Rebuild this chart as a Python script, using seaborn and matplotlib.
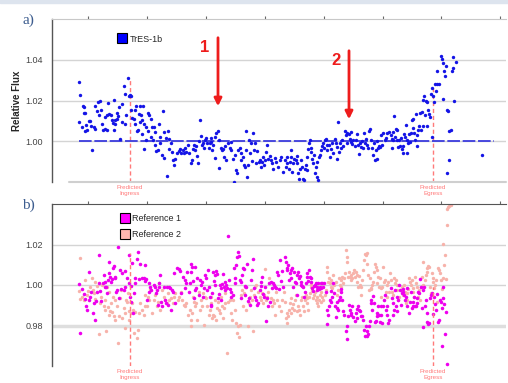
import matplotlib
matplotlib.use('Agg')
import matplotlib.pyplot as plt
from matplotlib.lines import Line2D
from matplotlib.patches import Rectangle
import matplotlib.transforms as mtransforms
import numpy as np
import pandas as pd
import seaborn as sns

# ---- TrES-1b light curve (time in arbitrary units, relative flux) ----
tres_time_pre = [26.7, 27.7, 30.7, 32.0, 32.3, 33.3, 27.3, 30.0, 32.7, 35.0,
                 34.3, 36.7, 38.3, 39.3, 40.0, 41.7, 42.7, 43.3, 45.0, 46.0,
                 47.7, 46.7, 49.3, 50.0, 51.0, 53.3, 55.3, 53.0, 55.0, 56.0,
                 57.3, 59.3, 61.7, 60.0, 61.2, 62.7, 63.3, 65.0, 66.0, 62.3,
                 64.5, 66.7, 68.3, 70.0, 70.4, 71.7, 72.7, 73.3, 74.3, 76.0,
                 76.7, 77.7, 79.3, 79.0, 80.0, 81.7, 82.7, 84.3, 86.7, 88.3,
                 90.7, 83.3, 85.7, 87.7, 89.0, 90.4, 92.3, 94.0, 95.7, 97.3,
                 99.0, 85.0, 90.0, 92.3, 94.0, 96.0, 100.0, 101.7, 103.3, 99.3,
                 100.7, 107.3, 108.3, 110.7, 112.0, 114.0, 116.0, 117.3, 102.7, 104.0,
                 105.7, 107.7, 110.0, 111.7, 115.0, 117.3, 119.0, 120.0, 121.0, 121.7,
                 123.3, 125.0, 126.7, 128.3, 129.0]
tres_flux_pre = [1.0293, 1.0225, 1.0171, 1.0168, 1.0139, 1.0139, 1.0093, 1.0070, 1.0049, 1.0054,
                 1.0082, 1.0098, 1.0101, 1.0077, 0.9956, 1.0070, 1.0062, 1.0171, 1.0148, 1.0192,
                 1.0197, 1.0127, 1.0155, 1.0083, 1.0057, 1.0059, 1.0057, 1.0119, 1.0127, 1.0187,
                 1.0132, 1.0127, 1.0204, 1.0103, 1.0091, 1.0083, 1.0106, 1.0111, 1.0122, 1.0057,
                 1.0139, 1.0168, 1.0013, 1.0181, 1.0095, 1.0269, 1.0086, 1.0230, 1.0127, 1.0311,
                 1.0220, 1.0228, 1.0220, 1.0152, 1.0116, 1.0111, 1.0155, 1.0171, 1.0135, 1.0171,
                 1.0174, 1.0083, 1.0057, 1.0095, 1.0130, 1.0103, 1.0083, 1.0070, 1.0140, 1.0127,
                 1.0111, 1.0051, 1.0037, 0.9964, 1.0005, 1.0051, 1.0070, 1.0070, 1.0046, 1.0021,
                 1.0008, 1.0086, 1.0021, 1.0147, 1.0046, 1.0018, 1.0051, 1.0013, 0.9980, 0.9953,
                 0.9959, 0.9989, 0.9932, 0.9920, 0.9830, 0.9964, 0.9989, 0.9948, 0.9907, 0.9881,
                 0.9915, 0.9943, 0.9953, 0.9964, 0.9940]

tres_time_mid1 = [131.0, 132.0, 133.3, 134.3, 136.0, 136.7, 138.7, 140.0, 141.0, 142.0,
                  143.3, 144.3, 145.3, 146.0, 146.7, 148.0, 149.3, 150.0, 151.0, 152.0,
                  152.7, 154.3, 155.3, 156.7, 157.7, 158.7, 159.3, 160.0, 161.0, 162.7,
                  163.3, 164.3, 166.0, 166.7, 167.0, 168.7, 170.0, 171.0, 172.0, 173.3,
                  174.3, 176.0, 177.7, 178.7, 179.3, 181.0, 182.0, 183.3, 184.3, 185.3,
                  186.0, 187.7, 188.7, 189.3, 191.0, 192.0, 192.7, 193.7, 194.3, 195.3,
                  196.0, 196.7, 197.7, 198.7, 200.0, 201.0, 202.0, 203.3, 204.3, 205.3,
                  206.7, 207.7, 208.7, 210.0, 211.0, 212.0, 213.3, 214.3, 215.3, 216.0,
                  217.7, 218.7, 220.0, 221.0, 222.7, 224.3, 226.0, 227.7, 229.3, 231.0]
tres_flux_mid1 = [0.9956, 0.9940, 0.9969, 0.9948, 0.9980, 0.9943, 0.9891, 0.9907, 0.9964, 0.9980,
                  0.9956, 0.9976, 0.9927, 0.9891, 1.0002, 1.0103, 1.0024, 0.9980, 0.9992, 0.9969,
                  1.0005, 1.0018, 0.9989, 0.9969, 0.9989, 1.0018, 0.9997, 0.9956, 0.9980, 1.0021,
                  0.9920, 1.0041, 1.0051, 1.0005, 0.9871, 0.9969, 0.9956, 0.9964, 0.9923, 0.9976,
                  0.9907, 0.9992, 0.9969, 0.9997, 0.9956, 0.9915, 0.9801, 0.9932, 0.9858, 0.9842,
                  0.9956, 0.9969, 0.9940, 0.9907, 0.9923, 0.9883, 0.9875, 1.0049, 0.9956, 0.9826,
                  0.9883, 1.0005, 0.9943, 0.9992, 0.9904, 1.0041, 0.9956, 0.9992, 0.9891, 0.9953,
                  0.9899, 0.9907, 0.9875, 0.9899, 0.9923, 0.9883, 0.9907, 0.9948, 0.9980, 0.9915,
                  0.9927, 0.9907, 0.9891, 0.9866, 0.9920, 0.9899, 0.9875, 0.9907, 0.9923, 0.9850]

tres_time_mid2 = [232.7, 233.7, 234.7, 235.3, 237.0, 238.0, 238.7, 239.3, 240.3, 241.3,
                  242.0, 243.7, 244.7, 245.3, 246.0, 247.0, 248.0, 249.3, 250.3, 251.3,
                  252.0, 252.7, 253.7, 254.7, 255.3, 256.0, 257.0, 258.0, 258.7, 259.3,
                  260.3, 261.3, 262.0, 262.7, 263.7, 264.7, 265.3, 266.0, 267.0, 268.0,
                  269.3, 270.3, 271.3, 272.0, 273.0, 273.7, 274.7, 275.3, 277.0, 278.0,
                  278.7, 280.3, 281.3, 282.7, 283.7, 284.7, 285.3, 286.3, 287.0, 288.0,
                  289.3, 290.3, 291.3, 292.7, 293.7, 294.7, 295.3, 297.0, 298.0, 298.7,
                  299.3, 300.3, 301.3, 302.7, 303.7, 304.7, 306.0, 307.0, 308.0, 308.7,
                  310.3, 311.3, 312.0, 312.7, 313.7, 314.7, 316.0, 317.0, 318.0, 319.3,
                  320.3, 321.3, 322.0, 322.7, 323.7, 324.7, 325.3, 326.0, 327.0, 328.0,
                  329.3, 330.3, 331.3, 332.7, 333.7, 335.3, 337.0]
tres_flux_mid2 = [0.9907, 0.9875, 0.9923, 0.9891, 0.9866, 0.9899, 0.9956, 0.9923, 0.9850, 0.9891,
                  0.9915, 0.9907, 0.9927, 0.9891, 0.9842, 0.9817, 0.9866, 0.9907, 0.9875, 0.9817,
                  0.9809, 0.9866, 0.9883, 0.9858, 0.9923, 0.9964, 0.9989, 1.0005, 0.9948, 0.9969,
                  0.9915, 0.9891, 0.9932, 0.9842, 0.9875, 0.9899, 0.9825, 0.9809, 0.9923, 0.9932,
                  0.9956, 0.9976, 0.9992, 0.9969, 1.0005, 1.0013, 0.9980, 0.9956, 0.9980, 0.9923,
                  0.9964, 0.9989, 0.9943, 1.0013, 0.9989, 0.9972, 0.9911, 1.0094, 0.9948, 0.9992,
                  0.9969, 1.0005, 0.9976, 1.0051, 1.0029, 0.9992, 1.0041, 1.0037, 1.0013, 0.9997,
                  1.0046, 0.9985, 1.0008, 0.9976, 1.0005, 1.0037, 0.9980, 0.9936, 0.9992, 0.9972,
                  1.0002, 0.9969, 1.0041, 0.9989, 1.0013, 0.9980, 0.9969, 1.0051, 1.0062, 1.0005,
                  0.9969, 0.9932, 0.9989, 0.9907, 0.9956, 1.0002, 0.9915, 0.9969, 0.9976, 0.9972,
                  1.0029, 0.9980, 1.0041, 1.0005, 1.0018, 1.0041, 1.0046]

tres_time_post = [338.7, 339.7, 339.9, 340.7, 341.3, 342.0, 343.0, 344.0, 344.7, 345.3,
                  346.3, 347.3, 348.0, 348.7, 349.7, 350.7, 351.3, 352.0, 353.0, 354.0,
                  354.7, 355.3, 356.3, 357.3, 358.0, 358.7, 359.7, 360.7, 361.3, 362.0,
                  363.0, 364.0, 364.7, 365.3, 366.3, 367.3, 368.0, 368.7, 369.7, 370.7,
                  371.3, 372.0, 373.0, 374.0, 374.7, 375.3, 376.3, 377.3, 378.0, 378.7,
                  379.7, 380.3, 380.7, 382.0, 383.0, 384.0, 384.7, 385.3, 387.3, 388.7,
                  389.7, 390.7, 391.3, 392.3, 393.0, 394.0, 395.3, 396.3, 396.6, 397.3,
                  395.0, 398.7, 399.7, 400.7, 401.3, 401.6, 404.0, 429.7]
tres_flux_post = [1.0029, 1.0013, 0.9969, 1.0046, 1.0005, 1.0122, 1.0021, 1.0062, 1.0054, 1.0005,
                  0.9972, 1.0008, 0.9976, 1.0018, 0.9964, 0.9976, 0.9943, 1.0034, 1.0021, 1.0078,
                  0.9940, 1.0005, 0.9989, 1.0037, 0.9997, 1.0041, 1.0103, 1.0111, 1.0067, 1.0041,
                  1.0005, 1.0135, 0.9976, 1.0029, 1.0057, 1.0073, 1.0139, 1.0057, 1.0143, 1.0073,
                  1.0204, 1.0220, 1.0127, 1.0197, 1.0073, 1.0192, 1.0152, 1.0135, 1.0119, 1.0230,
                  1.0021, 1.0261, 1.0220, 1.0192, 1.0279, 1.0249, 1.0279, 1.0344, 1.0282, 1.0416,
                  1.0404, 1.0209, 1.0383, 1.0344, 1.0318, 1.0367, 1.0155, 1.0148, 1.0051, 0.9910,
                  0.9842, 1.0054, 1.0347, 1.0360, 1.0412, 1.0200, 1.0388, 0.9932]

# ---- Reference star 1 ----
ref1_time_a = [27.3, 30.0, 31.7, 32.7, 34.0, 35.0, 36.7, 37.3, 38.3, 39.3,
               40.7, 41.7, 43.3, 44.0, 45.0, 46.7, 47.3, 48.3, 49.3, 50.7,
               51.7, 52.7, 53.3, 54.3, 55.0, 56.0, 56.7, 57.3, 58.3, 59.3,
               60.0, 60.7, 61.7, 62.7, 63.3, 64.0, 65.0, 66.0, 66.7, 68.3,
               69.3, 70.0, 71.7, 72.7, 73.3, 75.0, 76.7, 77.3, 78.3, 78.6,
               79.3, 80.0, 80.7, 81.7, 82.7, 83.3, 85.0, 86.0, 86.7, 88.3,
               90.0, 91.7, 92.7, 93.3, 94.0, 95.0, 96.7, 97.3, 98.3, 99.3,
               101.7, 102.7, 104.0, 105.0, 106.0, 106.7, 107.3, 108.3, 109.3, 110.0,
               111.7, 112.7, 114.0, 115.0, 116.0, 116.7, 118.3, 119.3, 120.0, 120.7,
               121.7, 123.3, 125.0, 126.7, 128.3, 129.3, 28.3]
ref1_flux_a = [1.0003, 0.9979, 0.9956, 0.9930, 0.9897, 0.9878, 0.9927, 1.0065, 0.9943, 0.9963,
               0.9861, 0.9910, 0.9829, 0.9923, 0.9967, 1.0147, 1.0011, 0.9972, 0.9923, 1.0011,
               1.0049, 0.9989, 1.0016, 0.9989, 0.9959, 1.0024, 1.0114, 1.0057, 1.0041, 1.0016,
               1.0028, 1.0082, 1.0093, 1.0033, 1.0041, 0.9967, 0.9976, 1.0187, 0.9935, 1.0073,
               0.9979, 1.0060, 0.9976, 1.0070, 0.9992, 1.0037, 1.0011, 1.0147, 0.9943, 0.9918,
               0.9995, 1.0109, 0.9861, 0.9959, 1.0008, 1.0037, 1.0126, 1.0163, 1.0028, 1.0103,
               1.0033, 1.0037, 1.0021, 1.0098, 1.0028, 0.9927, 1.0008, 0.9967, 0.9989, 0.9976,
               1.0000, 0.9989, 0.9959, 0.9976, 0.9902, 0.9989, 1.0011, 1.0049, 0.9918, 0.9897,
               0.9989, 0.9927, 0.9910, 0.9989, 0.9902, 0.9989, 0.9984, 0.9878, 0.9976, 0.9963,
               1.0057, 0.9910, 1.0082, 1.0077, 1.0070, 0.9959, 0.9764]

ref1_time_b = [131.0, 132.7, 133.3, 134.3, 135.3, 136.7, 137.7, 138.7, 139.3, 140.0,
               141.0, 142.0, 142.7, 143.3, 144.3, 145.3, 146.7, 147.7, 148.7, 150.0,
               151.0, 152.0, 152.7, 154.3, 155.3, 156.0, 156.7, 157.7, 158.7, 159.3,
               160.0, 161.0, 162.0, 162.7, 163.3, 164.3, 165.3, 166.0, 166.7, 167.7,
               168.7, 169.3, 170.0, 171.0, 172.0, 172.7, 173.3, 174.3, 175.3, 176.0,
               176.7, 177.7, 178.7, 179.3, 181.0, 182.0, 182.7, 183.3, 184.3, 185.3,
               186.0, 186.7, 187.7, 188.7, 189.3, 190.0, 191.0, 192.0, 192.7, 193.3,
               194.3, 195.3, 196.0, 196.7, 197.7, 198.7, 200.0, 201.0, 202.0, 203.3,
               204.3, 205.3, 206.0, 207.7, 208.7, 209.3, 210.0, 211.0, 212.0, 213.3,
               214.3, 215.3, 216.0, 216.7, 217.7, 218.7, 220.0, 221.0, 222.0, 222.7,
               224.3, 225.3, 226.0, 226.7, 227.7, 228.7, 230.0, 231.0]
ref1_flux_b = [1.0041, 0.9984, 1.0024, 1.0008, 1.0065, 0.9967, 1.0008, 1.0106, 1.0065, 1.0090,
               1.0021, 0.9935, 1.0090, 0.9976, 0.9984, 1.0033, 0.9951, 1.0024, 1.0000, 1.0016,
               0.9943, 0.9984, 1.0049, 1.0033, 0.9976, 1.0073, 0.9992, 0.9943, 0.9902, 0.9894,
               0.9959, 1.0065, 1.0021, 1.0000, 1.0049, 1.0070, 1.0054, 0.9935, 0.9956, 1.0000,
               0.9927, 0.9984, 1.0005, 1.0054, 0.9992, 0.9976, 1.0016, 1.0000, 0.9984, 1.0240,
               1.0024, 0.9979, 0.9943, 0.9967, 0.9951, 1.0082, 1.0008, 1.0033, 1.0098, 1.0139,
               1.0163, 1.0142, 1.0024, 1.0016, 0.9935, 1.0049, 1.0082, 1.0077, 0.9951, 0.9995,
               0.9989, 1.0103, 0.9923, 0.9935, 0.9902, 1.0024, 1.0073, 1.0126, 0.9984, 0.9943,
               0.9927, 0.9902, 0.9910, 0.9976, 1.0016, 0.9995, 1.0041, 0.9956, 0.9943, 0.9992,
               0.9821, 0.9935, 0.9894, 1.0008, 0.9918, 1.0016, 0.9984, 1.0008, 1.0000, 0.9992,
               0.9984, 1.0065, 1.0049, 0.9979, 1.0122, 1.0021, 1.0070, 0.9992]

ref1_time_c = [232.7, 233.7, 234.7, 235.3, 236.0, 237.0, 238.0, 238.7, 239.3, 240.3,
               241.3, 242.0, 242.7, 243.7, 244.7, 245.3, 246.0, 247.0, 248.0, 248.7,
               249.3, 250.3, 251.3, 252.0, 252.7, 253.7, 254.7, 255.3, 256.0, 257.0,
               258.0, 258.7, 259.3, 260.3, 261.3, 262.0, 262.7, 263.7, 264.7, 265.3,
               266.0, 267.0, 268.0, 268.7, 269.3, 270.3, 271.3, 272.0, 273.7, 274.7,
               275.3, 276.0, 277.0, 278.0, 278.7, 279.3, 280.3, 281.3, 282.0, 282.7,
               283.7, 284.7, 285.3, 286.0, 287.0, 288.0, 288.7, 289.3, 290.3, 291.3,
               292.0, 293.7, 294.7, 295.3, 296.0, 297.0, 298.0, 298.7, 299.3, 300.3,
               301.3, 302.7, 303.7, 304.7, 305.3, 306.0, 307.0, 308.0, 309.3, 310.3,
               311.3, 312.0, 312.7, 313.7, 314.7, 315.3, 316.0, 317.0, 318.0, 318.7,
               319.3, 320.3, 321.3, 322.0, 322.7, 323.7, 324.7, 325.3, 326.0, 327.0,
               328.0, 328.7, 329.3, 330.3, 331.3, 332.0, 332.7, 333.7, 334.7, 335.3,
               336.0, 337.0]
ref1_flux_c = [1.0139, 1.0114, 1.0082, 1.0073, 1.0098, 1.0024, 1.0060, 1.0033, 1.0073, 1.0082,
               0.9992, 1.0065, 1.0016, 1.0008, 0.9951, 1.0049, 1.0065, 1.0037, 1.0044, 1.0000,
               1.0016, 0.9995, 0.9989, 0.9943, 0.9967, 1.0008, 1.0041, 1.0060, 1.0021, 1.0073,
               1.0041, 1.0016, 1.0037, 0.9984, 0.9972, 0.9995, 1.0000, 1.0011, 0.9976, 0.9989,
               1.0011, 0.9979, 0.9992, 1.0008, 0.9984, 1.0011, 0.9989, 1.0008, 0.9967, 0.9878,
               0.9809, 0.9853, 0.9897, 0.9927, 0.9972, 0.9914, 0.9943, 1.0011, 0.9959, 0.9897,
               0.9842, 0.9886, 0.9918, 0.9878, 0.9927, 0.9943, 0.9979, 0.9963, 0.9927, 0.9870,
               0.9853, 0.9772, 0.9796, 0.9731, 0.9845, 0.9902, 0.9878, 0.9861, 0.9853, 0.9894,
               0.9842, 0.9821, 0.9861, 0.9881, 0.9837, 0.9894, 0.9878, 0.9870, 0.9845, 0.9848,
               0.9829, 0.9780, 0.9747, 0.9796, 0.9747, 0.9772, 0.9756, 0.9800, 0.9821, 0.9927,
               0.9910, 0.9878, 0.9946, 0.9910, 0.9816, 0.9821, 0.9845, 0.9861, 0.9894, 0.9853,
               0.9816, 0.9853, 0.9894, 0.9813, 0.9894, 0.9927, 0.9951, 0.9878, 0.9894, 0.9853,
               0.9813, 0.9829]

ref1_time_d = [338.7, 339.7, 340.7, 341.3, 342.0, 343.0, 344.0, 344.7, 345.3, 346.3,
               347.3, 348.0, 348.7, 349.7, 350.7, 351.3, 352.0, 353.0, 354.0, 354.7,
               355.3, 357.3, 358.0, 358.7, 359.7, 360.7, 361.3, 362.0, 363.0, 364.0,
               364.7, 365.3, 366.3, 367.3, 368.0, 368.7, 369.7, 370.7, 371.3, 372.0,
               373.0, 374.0, 374.7, 375.3, 376.3, 377.3, 378.0, 378.7, 379.7, 381.3,
               382.0, 383.0, 384.0, 384.7, 386.3, 387.3, 388.0, 388.7, 389.7, 390.7,
               391.3, 392.0, 393.0, 394.0, 390.4, 395.3]
ref1_flux_d = [0.9984, 0.9935, 0.9910, 0.9853, 0.9878, 0.9976, 0.9894, 0.9870, 0.9943, 0.9927,
               1.0000, 0.9976, 0.9902, 0.9959, 0.9967, 0.9979, 0.9951, 0.9927, 0.9943, 0.9984,
               0.9894, 0.9861, 0.9918, 0.9967, 0.9886, 0.9894, 0.9918, 0.9943, 0.9894, 0.9897,
               0.9910, 0.9935, 0.9967, 0.9959, 1.0028, 0.9989, 0.9886, 0.9976, 0.9793, 0.9989,
               0.9894, 0.9927, 0.9861, 0.9816, 0.9809, 0.9813, 0.9935, 0.9951, 0.9959, 0.9858,
               0.9943, 0.9907, 0.9878, 0.9956, 0.9816, 0.9826, 0.9927, 0.9918, 0.9886, 0.9992,
               0.9935, 0.9907, 0.9756, 0.9865, 0.9698, 0.9612]

# ---- Reference star 2 ----
ref2_time_a = [28.3, 26.7, 28.0, 30.0, 31.7, 33.3, 35.0, 36.0, 38.3, 40.0,
               40.7, 41.7, 42.7, 43.3, 45.0, 46.7, 48.3, 49.3, 50.0, 51.7,
               52.7, 53.3, 54.0, 55.0, 56.0, 56.7, 57.3, 58.3, 59.3, 60.0,
               60.7, 61.7, 62.7, 63.3, 65.0, 66.0, 66.7, 68.3, 69.3, 70.0,
               71.7, 72.7, 73.3, 74.0, 75.0, 76.0, 76.7, 77.3, 79.3, 80.0,
               80.7, 81.7, 83.3, 85.0, 86.0, 86.7, 88.3, 90.0, 91.7, 92.7,
               93.3, 95.0, 96.0, 97.3, 98.3, 100.0, 101.7, 103.3, 105.0, 106.0,
               106.7, 108.3, 110.0, 111.7, 113.3, 115.0, 116.0, 117.3, 119.3, 120.7,
               121.7, 123.3, 126.0, 127.3, 129.3]
ref2_flux_a = [1.0134, 0.9972, 0.9930, 0.9943, 0.9927, 1.0024, 0.9951, 0.9972, 0.9992, 1.0033,
               0.9976, 0.9959, 1.0016, 0.9930, 0.9995, 0.9756, 0.9910, 0.9943, 1.0000, 0.9894,
               0.9878, 0.9927, 0.9772, 0.9989, 0.9891, 0.9853, 0.9963, 0.9870, 0.9910, 0.9865,
               0.9943, 0.9845, 0.9829, 0.9927, 0.9894, 0.9715, 0.9845, 0.9935, 0.9976, 0.9837,
               0.9886, 0.9788, 0.9861, 0.9927, 0.9918, 0.9959, 0.9874, 0.9829, 0.9861, 0.9910,
               0.9878, 0.9764, 0.9865, 0.9739, 0.9780, 0.9861, 0.9910, 0.9878, 0.9853, 0.9894,
               0.9951, 0.9894, 0.9943, 0.9927, 0.9979, 0.9861, 0.9927, 0.9951, 0.9894, 0.9914,
               1.0008, 0.9878, 0.9976, 0.9943, 0.9927, 0.9910, 0.9959, 0.9927, 0.9935, 0.9910,
               0.9943, 0.9959, 0.9927, 0.9943, 0.9967]

ref2_time_b = [130.0, 132.0, 133.3, 134.3, 136.0, 137.7, 138.7, 139.3, 140.0, 141.0,
               142.0, 143.3, 144.3, 145.3, 146.7, 147.7, 148.7, 150.0, 151.0, 152.0,
               153.3, 154.3, 155.3, 156.7, 157.7, 158.7, 159.3, 160.0, 161.0, 162.0,
               163.3, 164.3, 165.3, 166.0, 166.7, 167.7, 168.7, 170.0, 171.0, 172.0,
               172.7, 173.3, 175.3, 176.0, 177.7, 178.7, 180.0, 181.0, 182.7, 184.3,
               185.3, 186.0, 186.7, 187.7, 188.7, 190.0, 191.0, 192.0, 192.7, 194.3,
               196.0, 196.7, 197.7, 198.7, 200.0, 201.0, 202.0, 203.3, 204.3, 206.0,
               207.7, 208.7, 210.0, 211.0, 212.0, 213.3, 214.3, 215.3, 216.0, 216.7,
               218.7, 220.0, 221.0, 222.0, 223.3, 224.3, 225.3, 226.7, 228.7, 230.0]
ref2_flux_b = [0.9927, 0.9902, 0.9894, 0.9910, 0.9853, 0.9878, 0.9796, 0.9829, 0.9861, 0.9943,
               0.9918, 0.9894, 0.9910, 0.9829, 0.9967, 0.9878, 0.9927, 0.9894, 0.9959, 0.9804,
               0.9943, 0.9935, 0.9894, 0.9853, 0.9878, 0.9910, 0.9943, 0.9837, 0.9853, 0.9845,
               0.9927, 0.9829, 0.9886, 0.9914, 0.9878, 0.9861, 0.9943, 0.9894, 0.9837, 0.9886,
               0.9910, 0.9959, 0.9666, 0.9918, 0.9927, 0.9861, 0.9829, 0.9927, 0.9878, 0.9813,
               0.9764, 0.9796, 0.9744, 0.9804, 0.9951, 0.9976, 0.9894, 0.9959, 0.9992, 0.9878,
               0.9796, 0.9910, 0.9943, 0.9976, 0.9927, 0.9772, 0.9951, 0.9989, 1.0000, 0.9967,
               0.9943, 0.9927, 0.9959, 0.9910, 0.9951, 1.0077, 0.9927, 0.9943, 0.9967, 1.0033,
               0.9935, 0.9894, 0.9927, 0.9910, 0.9853, 0.9967, 0.9927, 0.9894, 0.9870, 0.9927]

ref2_time_c = [232.0, 233.0, 233.7, 234.7, 235.3, 236.0, 237.0, 238.0, 238.7, 239.3,
               240.3, 241.3, 242.0, 242.7, 243.7, 245.3, 246.0, 247.0, 248.0, 248.7,
               250.3, 251.3, 252.0, 252.7, 253.7, 254.7, 255.3, 256.0, 257.0, 258.0,
               258.7, 259.3, 260.3, 261.3, 262.0, 262.7, 263.7, 264.7, 265.3, 266.0,
               267.0, 268.0, 268.7, 269.3, 270.3, 271.3, 272.7, 273.7, 274.7, 275.3,
               276.0, 277.0, 278.0, 278.7, 279.3, 280.3, 281.3, 282.0, 283.7, 285.3,
               286.0, 287.0, 288.0, 288.7, 289.3, 290.3, 291.3, 292.0, 292.7, 293.7,
               294.7, 295.3, 296.0, 297.0, 298.0, 298.7, 299.3, 300.3, 301.3, 302.0,
               302.7, 303.7, 304.7, 305.3, 306.0, 307.0, 308.0, 308.7, 309.3, 310.3,
               311.3, 312.0, 312.7, 313.7, 314.7, 315.3, 316.0, 317.0, 318.0, 318.7,
               319.3, 320.3, 321.3, 322.0, 322.7, 323.7, 324.7, 325.3, 326.0, 327.0,
               328.0, 328.7, 329.3, 330.3, 331.3, 332.0, 332.7, 333.7, 334.7, 335.3,
               336.0, 337.0]
ref2_flux_c = [0.9967, 0.9918, 0.9837, 0.9813, 0.9861, 0.9845, 0.9878, 0.9910, 0.9861, 0.9935,
               0.9886, 0.9907, 0.9878, 0.9927, 0.9951, 0.9870, 0.9894, 0.9878, 0.9853, 0.9927,
               0.9943, 0.9894, 0.9870, 0.9927, 0.9951, 0.9935, 0.9910, 0.9878, 0.9943, 0.9959,
               0.9989, 1.0005, 0.9976, 0.9935, 0.9951, 0.9967, 0.9927, 0.9910, 0.9943, 0.9894,
               0.9927, 0.9951, 0.9918, 0.9967, 0.9943, 0.9927, 0.9951, 0.9976, 1.0090, 1.0065,
               1.0016, 1.0033, 1.0008, 0.9992, 1.0024, 0.9984, 1.0049, 1.0000, 1.0016, 0.9951,
               0.9976, 1.0033, 1.0000, 1.0024, 0.9992, 1.0041, 1.0008, 1.0037, 1.0057, 1.0171,
               1.0139, 1.0114, 1.0041, 1.0065, 1.0041, 1.0024, 1.0049, 1.0033, 1.0057, 1.0073,
               1.0041, 1.0065, 1.0016, 1.0049, 0.9992, 1.0044, 1.0000, 0.9951, 0.9989, 1.0024,
               1.0073, 1.0122, 1.0155, 1.0147, 1.0158, 1.0106, 1.0049, 0.9976, 1.0033, 0.9984,
               0.9979, 1.0000, 1.0016, 1.0065, 1.0106, 1.0090, 1.0073, 1.0011, 1.0041, 0.9989,
               1.0033, 0.9943, 0.9984, 0.9992, 1.0090, 1.0016, 1.0024, 0.9967, 0.9943, 1.0000,
               1.0016, 0.9967]

ref2_time_d = [338.0, 339.0, 339.7, 340.7, 342.0, 343.0, 344.0, 344.7, 345.3, 346.3,
               347.3, 348.7, 349.7, 350.7, 352.0, 353.0, 354.0, 354.7, 355.3, 356.3,
               357.3, 358.0, 358.7, 359.7, 360.7, 361.3, 362.0, 363.0, 364.0, 364.7,
               366.3, 367.3, 368.0, 368.7, 369.7, 370.7, 371.3, 373.0, 374.0, 374.7,
               375.3, 376.3, 377.3, 378.0, 378.7, 379.7, 380.7, 381.3, 382.0, 383.0,
               384.0, 384.7, 386.3, 387.3, 388.0, 388.7, 389.7, 390.7, 391.3, 392.0,
               393.0, 394.0, 394.7, 395.3, 396.3, 397.3, 398.7]
ref2_flux_d = [1.0057, 1.0024, 0.9967, 0.9951, 1.0037, 1.0008, 1.0024, 0.9976, 1.0000, 0.9927,
               0.9943, 0.9976, 0.9992, 0.9951, 1.0000, 0.9967, 0.9910, 0.9927, 0.9959, 0.9979,
               1.0037, 1.0016, 1.0000, 1.0024, 0.9967, 0.9984, 0.9943, 1.0041, 1.0008, 0.9992,
               0.9943, 0.9976, 0.9927, 0.9989, 1.0041, 1.0114, 1.0000, 1.0024, 1.0049, 1.0082,
               1.0065, 1.0093, 1.0090, 0.9992, 0.9959, 1.0057, 1.0016, 1.0037, 0.9984, 1.0000,
               1.0024, 0.9918, 1.0086, 1.0073, 1.0057, 1.0024, 0.9979, 1.0033, 1.0204, 1.0098,
               1.0147, 1.0028, 1.0298, 1.0375, 1.0383, 1.0391, 1.0396]

# transit markers and annotations
ingress_time = 78
egress_time = 381
baseline_span = (27, 442)
arrow_times = [166, 297]
arrow_labels = ['1', '2']

tres = pd.DataFrame({
    'time': tres_time_pre + tres_time_mid1 + tres_time_mid2 + tres_time_post,
    'flux': tres_flux_pre + tres_flux_mid1 + tres_flux_mid2 + tres_flux_post,
})
ref1 = pd.DataFrame({
    'time': ref1_time_a + ref1_time_b + ref1_time_c + ref1_time_d,
    'flux': ref1_flux_a + ref1_flux_b + ref1_flux_c + ref1_flux_d,
})
ref2 = pd.DataFrame({
    'time': ref2_time_a + ref2_time_b + ref2_time_c + ref2_time_d,
    'flux': ref2_flux_a + ref2_flux_b + ref2_flux_c + ref2_flux_d,
})

sns.set_style('white')
plt.rcParams['font.family'] = ['Liberation Sans', 'DejaVu Sans']

W, H = 508, 383
fig = plt.figure(figsize=(W / 100, H / 100), dpi=100)
fig.patches.append(Rectangle((0, 1 - 3 / H), 1, 3 / H, transform=fig.transFigure,
                             color='#dde4ee', zorder=0))

ax1 = fig.add_axes([52 / W, 1 - 182 / H, 454 / W, 163 / H])
ax2 = fig.add_axes([52 / W, 1 - 366 / H, 454 / W, 162 / H])

blue = '#1414e6'
magenta = '#ee00ee'
pink = '#f7b2aa'
pred_col = '#ff7a7a'
grid_col = '#d4d4d4'

# ---- panel a ----
ax1.hlines(1.0, *baseline_span, color='#3b3bdd', lw=1.3, linestyles=(0, (7, 1.5)), zorder=2)
sns.scatterplot(data=tres, x='time', y='flux', ax=ax1, color=blue, s=6,
                linewidth=0, legend=False, zorder=3)
ax1.vlines(ingress_time, 0.98, 1.031, color=pred_col, lw=1, linestyles=(0, (3, 2)), zorder=1)
ax1.vlines(egress_time, 0.98, 1.026, color=pred_col, lw=1, linestyles=(0, (3, 2)), zorder=1)
ax1.set_ylim(0.98, 1.06)
ax1.set_yticks([1.00, 1.02, 1.04])
ax1.axhline(0.98, xmin=0.037, color='#cfcfcf', lw=1.5, clip_on=False)
ax1.set_ylabel('Relative Flux', fontsize=7, fontweight='bold')
ax1.yaxis.set_label_coords(-0.066, 0.5)

for t, lab, y0, y1, ly in zip(arrow_times, arrow_labels, [1.0508, 1.0444],
                              [1.0172, 1.0108], [1.0459, 1.0395]):
    ax1.annotate('', xy=(t, y1), xytext=(t, y0),
                 arrowprops=dict(arrowstyle='-|>', color='#ee1c1c', lw=2,
                                 mutation_scale=11, shrinkA=0, shrinkB=0))
    ax1.text(t - 13, ly, lab, color='#ee1c1c', fontsize=12, fontweight='bold',
             ha='center', va='center')

h1 = [Line2D([], [], marker='s', ls='', markersize=7, markerfacecolor='#0000ff',
             markeredgecolor='black', markeredgewidth=0.8)]
ax1.legend(h1, ['TrES-1b'], loc='center left', bbox_to_anchor=(0.145, 0.877),
           frameon=False, fontsize=6.5, handlelength=1, handletextpad=0.3,
           borderpad=0, borderaxespad=0)

# ---- panel b ----
sns.scatterplot(data=ref2, x='time', y='flux', ax=ax2, color=pink, s=6,
                linewidth=0, legend=False, zorder=2)
sns.scatterplot(data=ref1, x='time', y='flux', ax=ax2, color=magenta, s=6.5,
                linewidth=0, legend=False, zorder=3)
ax2.vlines(ingress_time, 0.96, 1.0156, color=pred_col, lw=1, linestyles=(0, (3, 2)), zorder=4)
ax2.vlines(egress_time, 0.96, 0.999, color=pred_col, lw=1, linestyles=(0, (3, 2)), zorder=4)
ax2.set_ylim(0.96, 1.04)
ax2.set_yticks([0.98, 1.00, 1.02])
ax2.set_ylabel('')

h2 = [Line2D([], [], marker='s', ls='', markersize=7, markerfacecolor=c,
             markeredgecolor='black', markeredgewidth=0.8) for c in ['#ff00ff', '#ffb6b0']]
ax2.legend(h2, ['Reference 1', 'Reference 2'], loc='center left',
           bbox_to_anchor=(0.15, 0.861), frameon=False, fontsize=6.5, handlelength=1,
           handletextpad=0.3, borderpad=0, borderaxespad=0, labelspacing=0.7)

ticks_x = np.arange(36, 454, 58.9)
for ax in (ax1, ax2):
    ax.set_xlim(0, 454)
    ax.set_xlabel('')
    ax.set_xticks(ticks_x)
    ax.tick_params(axis='x', bottom=False, top=True, labelbottom=False, labeltop=False,
                   direction='out', length=2.5, width=0.8, color='#666666')
    ax.tick_params(axis='y', left=False, labelsize=6.5, labelcolor='#444444', pad=3)
    ax.yaxis.set_major_formatter(matplotlib.ticker.FormatStrFormatter('%.2f'))
    ax.grid(axis='y', color=grid_col, lw=1)
    ax.grid(axis='x', visible=False)
    ax.set_axisbelow(True)
    for side in ['right', 'bottom']:
        ax.spines[side].set_visible(False)
    ax.spines['left'].set_color('#555555')
    ax.spines['left'].set_linewidth(1)
    ax.spines['top'].set_color('#c8c8c8')
    ax.spines['top'].set_linewidth(0.8)
    trans = mtransforms.blended_transform_factory(ax.transData, ax.transAxes)
    for t, lab in [(ingress_time, 'Predicted\nIngress'), (egress_time, 'Predicted\nEgress')]:
        ax.text(t, -0.02, lab, transform=trans, ha='center', va='top', fontsize=4.5,
                color=pred_col, linespacing=1.3)

ax2.get_ygridlines()[0].set_linewidth(2.5)
ax2.get_ygridlines()[0].set_color('#dedede')
ax2.spines['top'].set_color('#555555')

fig.text(28 / W, 1 - 20 / H, 'a)', fontsize=11, color='#3d5d8f',
         family=['Liberation Serif', 'DejaVu Serif'], ha='center', va='center')
fig.text(28 / W, 1 - 205 / H, 'b)', fontsize=11, color='#3d5d8f',
         family=['Liberation Serif', 'DejaVu Serif'], ha='center', va='center')

fig.savefig('out.png', dpi=100)
